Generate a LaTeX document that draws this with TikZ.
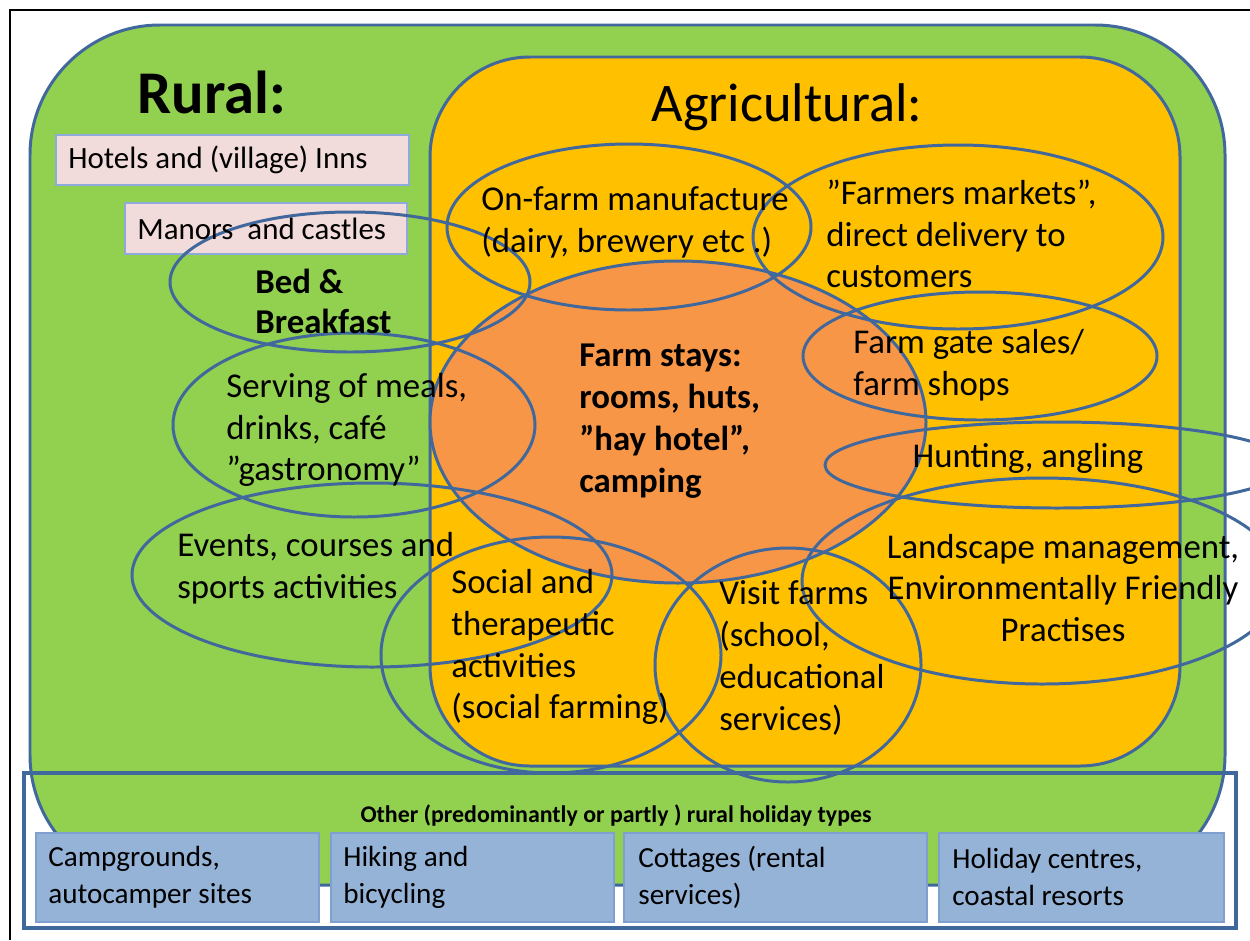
\documentclass[tikz,border=0pt]{standalone}
\usepackage{fontspec}
\setmainfont{Carlito}
\definecolor{ruralgreen}{HTML}{92D050}
\definecolor{agriorange}{HTML}{FFC000}
\definecolor{stayorange}{HTML}{F79646}
\definecolor{ringblue}{HTML}{41689C}
\definecolor{pinkfill}{HTML}{F2DCDB}
\definecolor{pinkedge}{HTML}{8EAADB}
\definecolor{typefill}{HTML}{95B3D7}
\definecolor{typeedge}{HTML}{7F9FCF}

\begin{document}
\begin{tikzpicture}[x=0.02cm,y=-0.02cm,
	ring/.style={draw=ringblue,line width=1.7pt},
	body/.style={inner sep=0pt,align=left,anchor=west,font=\fontsize{19.8}{23.8}\selectfont},
	boldbody/.style={body,font=\fontsize{19.8}{22.7}\selectfont\bfseries},
	boxtext/.style={inner sep=0pt,align=left,anchor=west,font=\fontsize{17.6}{23.8}\selectfont},
	typetext/.style={inner sep=0pt,align=left,anchor=west,font=\fontsize{16.6}{21}\selectfont}]
\useasboundingbox (0,0) rectangle (1250,940);
\clip (0,0) rectangle (1250,940);
\fill[white] (0,0) rectangle (1250,940);
\draw[line width=1.2pt] (10,940) -- (10,10) -- (1250,10);

% rural and agricultural areas
\draw[ring,fill=ruralgreen,rounded corners=2.6cm] (30,25) rectangle (1225,885);
\draw[ring,fill=agriorange,rounded corners=2cm] (430,57) rectangle (1180,766);
\fill[stayorange] (678,422) ellipse [x radius=248, y radius=161];

% pink boxes
\draw[draw=pinkedge,fill=pinkfill,line width=0.8pt] (56,135) rectangle (409,185);
\draw[draw=pinkedge,fill=pinkfill,line width=0.8pt] (125,203) rectangle (407,254);

% rings
\draw[ring] (350,282) ellipse [x radius=180, y radius=70];
\draw[ring] (354,425) ellipse [x radius=181, y radius=92];
\draw[ring] (372,575) ellipse [x radius=240, y radius=92];
\draw[ring] (551,655) ellipse [x radius=170, y radius=118];
\draw[ring] (788,665) ellipse [x radius=133, y radius=117];
\draw[ring] (1042,581) ellipse [x radius=240, y radius=103];
\draw[ring] (1057,465) ellipse [x radius=232, y radius=43];
\draw[ring] (980,356) ellipse [x radius=177, y radius=64];
\draw[ring] (958,237) ellipse [x radius=205, y radius=92];
\draw[ring] (629,227) ellipse [x radius=182, y radius=83];
\draw[ring] (678,422) ellipse [x radius=248, y radius=161];

% other holiday types
\draw[ring,line width=2pt] (24,773) rectangle (1236,928);
\foreach \xa/\xb in {36/319,331/614,624/927,939/1224}
	\draw[draw=typeedge,fill=typefill,line width=0.8pt] (\xa,833) rectangle (\xb,922);

% titles
\node (rural) at (212,92) {\fontsize{34.5}{40}\selectfont\bfseries Rural:};
\node (agri) at (787,107) {\fontsize{31}{36}\selectfont Agricultural:};

% texts
\node[boxtext] (hotels) at (68,160) {Hotels and (village) Inns};
\node[boxtext] (manors) at (137,229) {Manors\ \ and castles};
\node[boldbody] (bnb) at (255,301) {Bed \&\\Breakfast};
\node[body] (meals) at (226,430) {Serving of meals,\\drinks, café\\”gastronomy”};
\node[body] (events) at (177,568) {Events, courses and\\sports activities};
\node[body] (social) at (451,647) {Social and\\therapeutic\\activities\\(social farming)};
\node[body] (visit) at (719,658) {Visit farms\\(school,\\educational\\services)};
\node[body,anchor=center,align=center] (landscape) at (1063,588) {Landscape management,\\Environmentally Friendly\\Practises};
\node[body,anchor=center] (hunting) at (1028,458) {Hunting, angling};
\node[body] (gate) at (853,365) {Farm gate sales/\\farm shops};
\node[body] (markets) at (826,234) {”Farmers markets”,\\direct delivery to\\customers};
\node[body] (manufacture) at (481,222) {On-farm manufacture\\(dairy, brewery etc .)};
\node[boldbody,font=\fontsize{19.8}{23.8}\selectfont\bfseries] (stays) at (579,421) {Farm stays:\\rooms, huts,\\”hay hotel”,\\camping};

\node[font=\fontsize{13.6}{16}\selectfont\bfseries] (other) at (616,815) {Other (predominantly or partly ) rural holiday types};
\node[typetext] (camp) at (48,877) {Campgrounds,\\autocamper sites};
\node[typetext] (hike) at (343,877) {Hiking and\\bicycling};
\node[typetext] (cottage) at (638,877) {Cottages (rental\\services)};
\node[typetext] (centre) at (952,877) {Holiday centres,\\coastal resorts};
\end{tikzpicture}
\end{document}
